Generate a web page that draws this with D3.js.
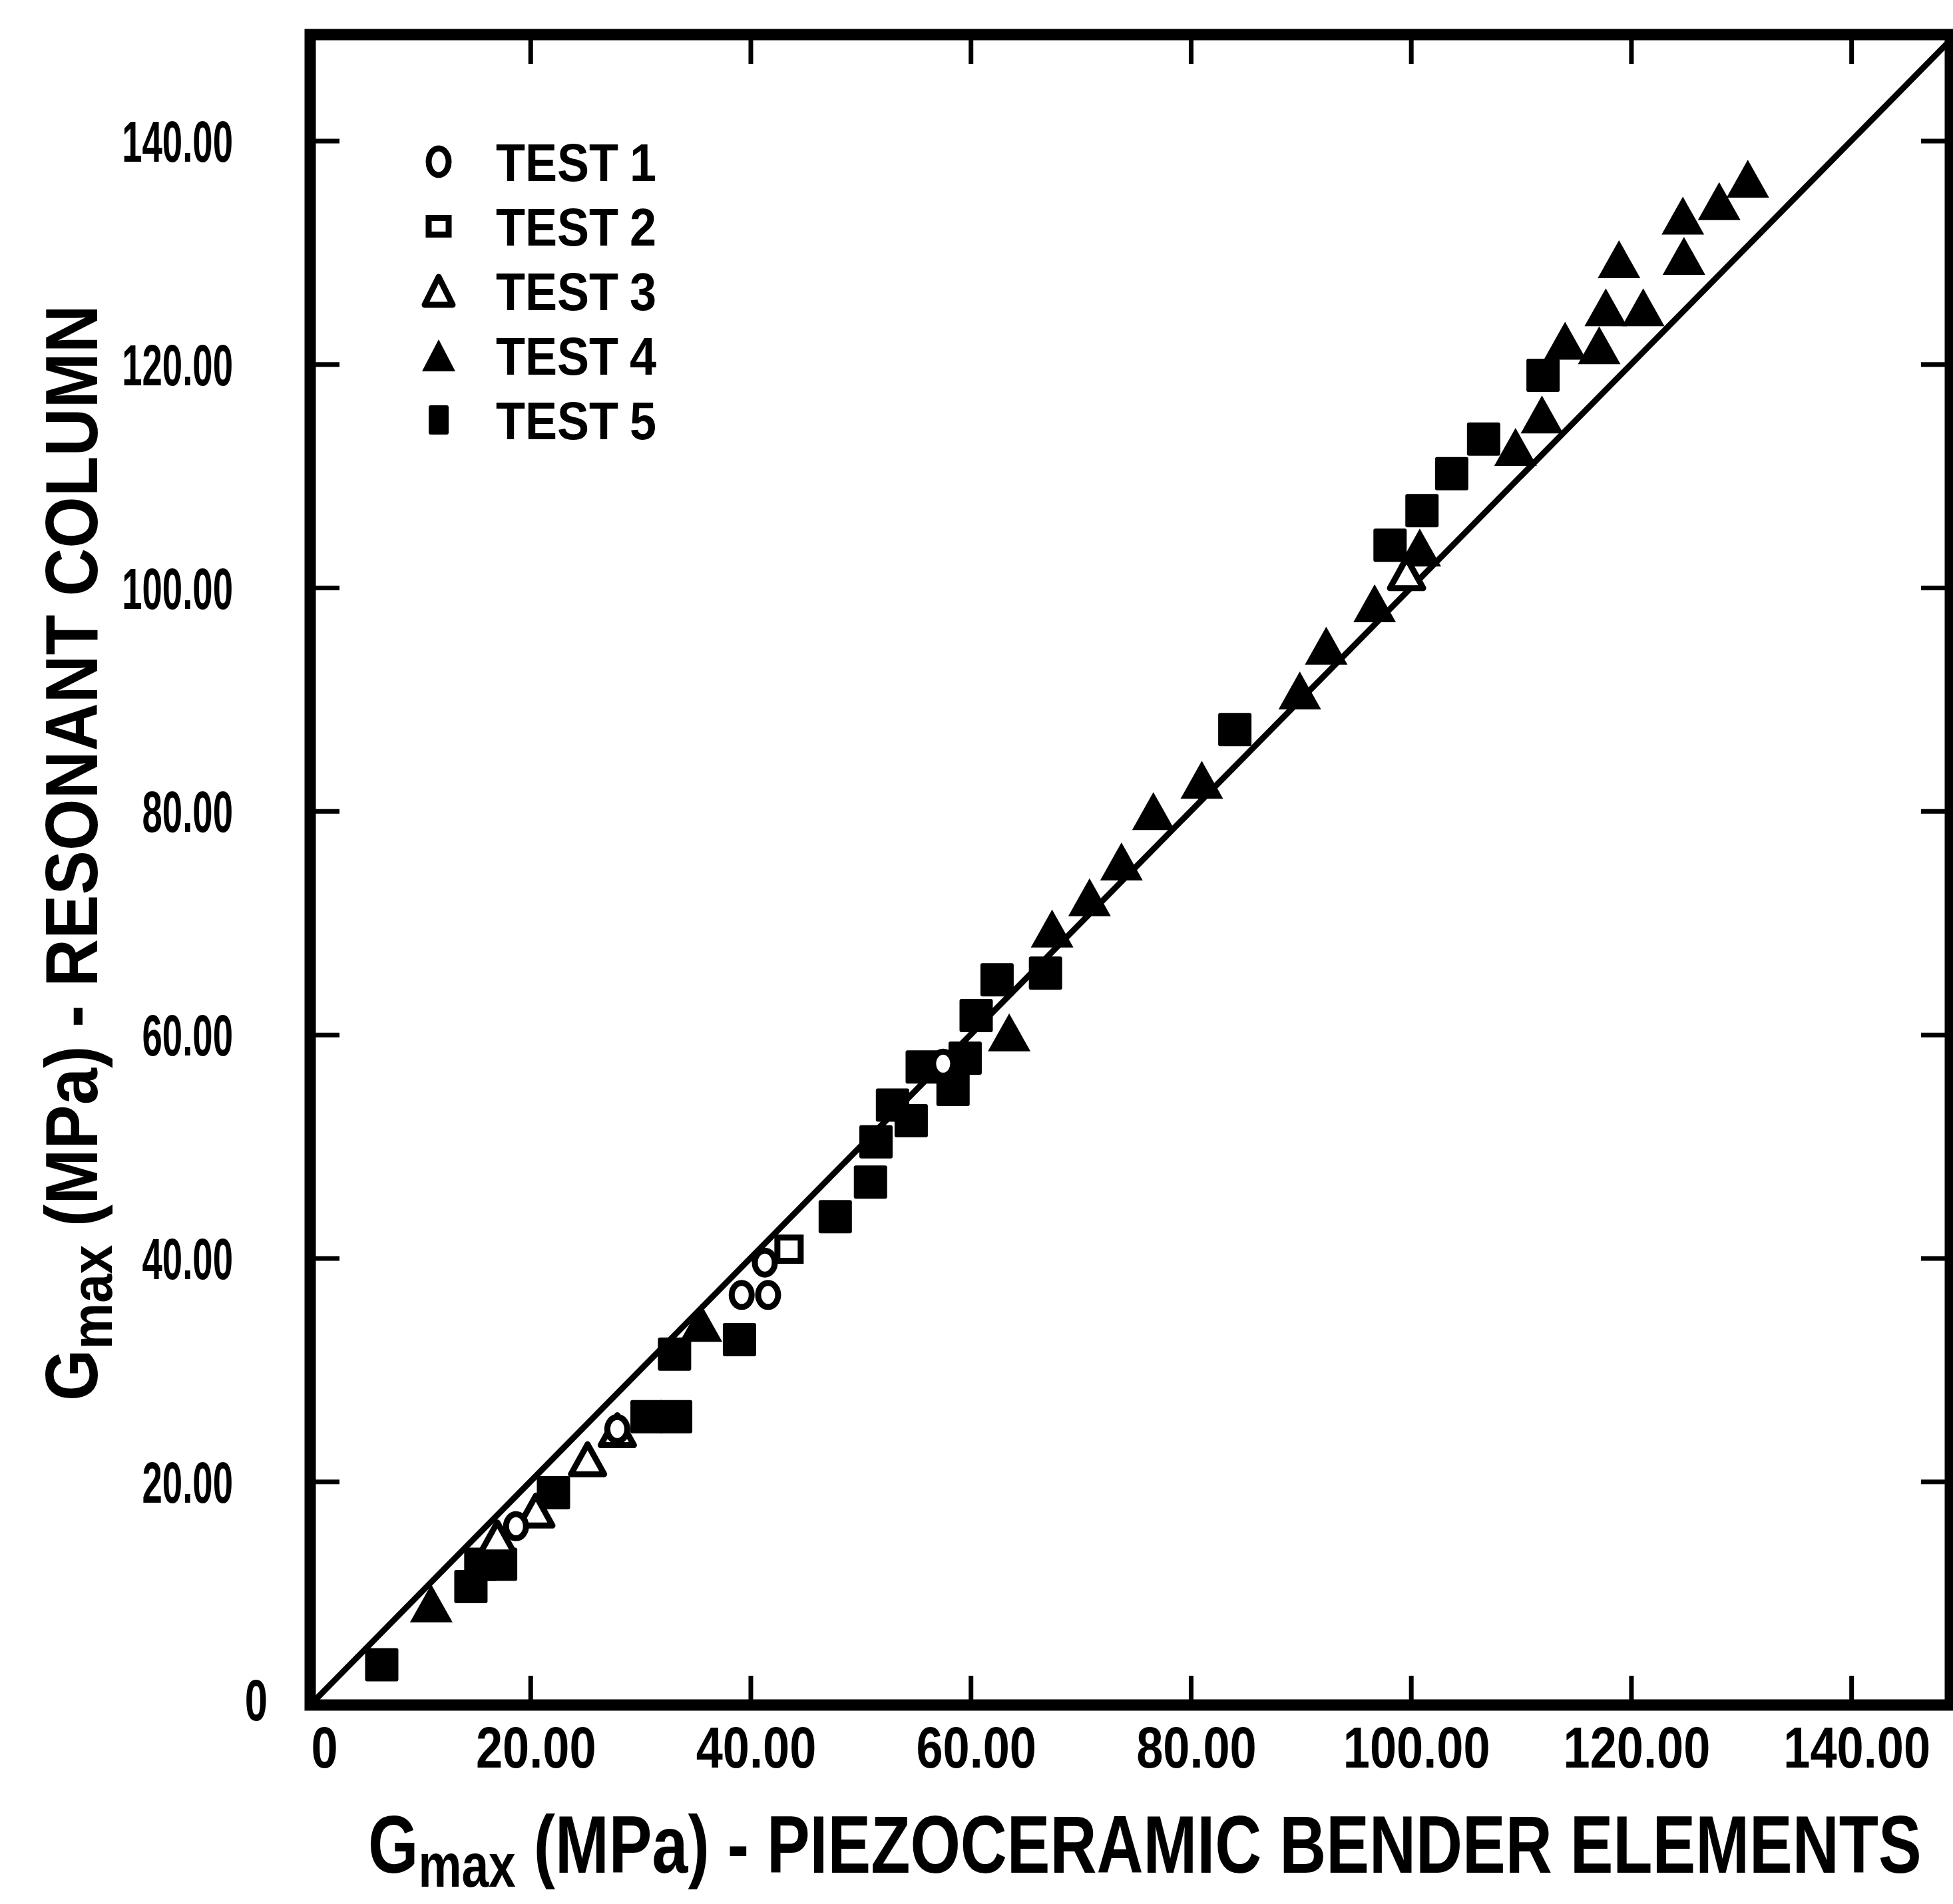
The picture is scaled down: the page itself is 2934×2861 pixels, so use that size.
<!DOCTYPE html>
<html>
<head>
<meta charset="utf-8">
<script src="https://cdn.jsdelivr.net/npm/d3@7"></script>
<style>
  html, body { margin: 0; padding: 0; background: #fff; }
  text { font-family: "Liberation Sans Narrow", "Liberation Sans", sans-serif; font-weight: bold; fill: #000; }
</style>
</head>
<body>
<div id="chart"></div>
<script>
// Gmax from resonant column vs Gmax from bender elements, values in MPa
var xTicks = [0, 20, 40, 60, 80, 100, 120, 140];
var yTicks = [0, 20, 40, 60, 80, 100, 120, 140];
var testNames = ["TEST 1", "TEST 2", "TEST 3", "TEST 4", "TEST 5"];
var lineOfEquality = [0, 149];

// [bender elements, resonant column]
var test1 = [[18.7, 16.0], [27.9, 24.7], [39.2, 36.7], [41.6, 36.7], [41.3, 39.6], [57.5, 57.4]];
var test2 = [[43.5, 40.8]];
var test3 = [[17.0, 15.0], [20.5, 17.4], [25.2, 22.0], [27.9, 24.6], [99.6, 101.3]];
var test4 = [[11.0, 9.1], [35.5, 34.2], [63.5, 60.2], [67.4, 69.5], [70.8, 72.3], [73.7, 75.5],
    [76.6, 80.0], [81.0, 82.8], [89.9, 90.8], [92.3, 94.8], [96.7, 98.6], [100.8, 103.6],
    [109.5, 112.6], [111.9, 115.5], [114.0, 122.1], [117.1, 121.7], [117.7, 125.1], [121.1, 125.1],
    [118.9, 129.4], [124.8, 129.7], [124.7, 133.3], [128.0, 134.6], [130.6, 136.6]];
var test5 = [[6.5, 3.6], [14.6, 10.6], [15.5, 12.6], [17.3, 12.6], [22.1, 19.0], [30.6, 25.8],
    [33.2, 25.8], [33.1, 31.4], [39.0, 32.7], [47.7, 43.7], [50.9, 46.8], [51.4, 50.4],
    [52.9, 53.7], [54.6, 52.3], [55.6, 57.1], [58.4, 55.1], [59.5, 57.9], [60.5, 61.7],
    [62.4, 64.9], [66.8, 65.5], [84.0, 87.3], [98.1, 103.8], [101.0, 106.9], [103.7, 110.2],
    [106.6, 113.3], [112.0, 119.0]];

var width = 2934, height = 2861;
var plotLeft = 466, plotRight = 2930, plotTop = 52, plotBottom = 2562;
var tickLen = 44;

var x = d3.scaleLinear().domain([0, 149]).range([plotLeft, plotRight]);
var y = d3.scaleLinear().domain([0, 149.5]).range([plotBottom, plotTop]);

var svg = d3.select("#chart").append("svg")
    .attr("width", width)
    .attr("height", height);

svg.append("rect").attr("width", width).attr("height", height).attr("fill", "#fff");

function tri(w, h) {
    return `M0,${-h / 2}L${w / 2},${h / 2}L${-w / 2},${h / 2}Z`;
}

// one marker; kind is the test index 0..4
function drawMarker(g, kind, big) {
    if (kind == 0) {
        g.append("ellipse").attr("rx", 15).attr("ry", big ? 18 : 20)
            .attr("fill", "#fff").attr("stroke", "#000").attr("stroke-width", 9);
    } else if (kind == 1) {
        var w = big ? 35 : 30, h = big ? 35 : 25;
        g.append("rect").attr("x", -w / 2).attr("y", -h / 2).attr("width", w).attr("height", h)
            .attr("fill", "#fff").attr("stroke", "#000").attr("stroke-width", 9);
    } else if (kind == 2) {
        g.append("path").attr("d", big ? tri(50, 45) : tri(42, 42))
            .attr("fill", "#fff").attr("stroke", "#000").attr("stroke-width", 9)
            .attr("stroke-linejoin", "round");
    } else if (kind == 3) {
        g.append("path").attr("d", big ? tri(64, 57) : tri(50, 48)).attr("fill", "#000");
    } else {
        var w5 = big ? 50 : 30, h5 = big ? 50 : 44;
        g.append("rect").attr("x", -w5 / 2).attr("y", -h5 / 2).attr("width", w5).attr("height", h5)
            .attr("rx", 3).attr("fill", "#000");
    }
}

function styleTicks(g) {
    g.select(".domain").remove();
    g.selectAll(".tick line").attr("stroke", "#000").attr("stroke-width", 7)
        .style("display", d => d === 0 ? "none" : null);
    g.attr("font-family", null).attr("font-size", null);
    g.selectAll(".tick text").style("font-size", "88px");
}

var fmt = d => d === 0 ? "0" : d.toFixed(2);

// bottom axis with labels
svg.append("g")
    .attr("transform", `translate(0,${plotBottom})`)
    .call(d3.axisBottom(x).tickValues(xTicks).tickSize(-tickLen).tickFormat(fmt))
    .call(styleTicks)
    .selectAll(".tick text")
    .attr("y", null).attr("dy", null)
    .attr("transform", d => `translate(${d === 0 ? 21 : 8},94) scale(0.82,1)`);

// left axis with labels
svg.append("g")
    .attr("transform", `translate(${plotLeft},0)`)
    .call(d3.axisLeft(y).tickValues(yTicks).tickSize(-tickLen).tickFormat(fmt))
    .call(styleTicks)
    .selectAll(".tick text")
    .attr("x", null).attr("dy", null)
    .attr("transform", d => d === 0 ? `translate(${402 - plotLeft},22) scale(0.7,1)`
        : `translate(${350 - plotLeft},31) scale(0.62,1)`);

// top and right: ticks only
svg.append("g")
    .attr("transform", `translate(0,${plotTop})`)
    .call(d3.axisTop(x).tickValues(xTicks.slice(1)).tickSize(-tickLen).tickFormat(""))
    .call(styleTicks);
svg.append("g")
    .attr("transform", `translate(${plotRight},0)`)
    .call(d3.axisRight(y).tickValues(yTicks.slice(1)).tickSize(-tickLen).tickFormat(""))
    .call(styleTicks);

// frame
svg.append("rect")
    .attr("x", plotLeft).attr("y", plotTop)
    .attr("width", plotRight - plotLeft).attr("height", plotBottom - plotTop)
    .attr("fill", "none").attr("stroke", "#000").attr("stroke-width", 17);

// 1:1 line
svg.append("line")
    .attr("x1", x(lineOfEquality[0])).attr("y1", y(lineOfEquality[0]))
    .attr("x2", x(lineOfEquality[1])).attr("y2", y(lineOfEquality[1]))
    .attr("stroke", "#000").attr("stroke-width", 9);

// markers, filled ones first so open ones sit on top
var series = [test1, test2, test3, test4, test5];
[4, 3, 2, 1, 0].forEach(function (k) {
    svg.append("g").attr("class", "test" + (k + 1))
        .selectAll("g")
        .data(series[k])
        .enter().append("g")
        .attr("transform", d => `translate(${x(d[0])},${y(d[1])})`)
        .each(function () { drawMarker(d3.select(this), k, true); });
});

// legend
var legend = svg.append("g").attr("class", "legend");
testNames.forEach(function (name, i) {
    var cy = 243 + i * 97;
    drawMarker(legend.append("g").attr("transform", `translate(659,${cy})`), i, false);
    var parts = name.split(" ");
    legend.append("text")
        .attr("transform", `translate(745,${cy + 29}) scale(0.9,1)`)
        .style("font-size", "80px")
        .text(parts[0]);
    legend.append("text")
        .attr("transform", `translate(966,${cy + 29}) scale(0.9,1)`)
        .attr("text-anchor", "middle")
        .style("font-size", "80px")
        .text(parts[1]);
});

// axis titles, squeezed to the width they take in the figure
function title(px, py, angle, length, rest, size, sub, shift) {
    var t = svg.append("text").style("font-size", size + "px");
    t.append("tspan").text("G");
    t.append("tspan").style("font-size", sub + "px").attr("dy", shift).text("max");
    t.append("tspan").attr("dy", -shift).text(" " + rest);
    var s = length / t.node().getComputedTextLength();
    t.attr("transform", `translate(${px},${py}) rotate(${angle}) scale(${s},1)`);
}
title(553, 2814, 0, 2334, "(MPa) - PIEZOCERAMIC BENDER ELEMENTS", 122, 92, 21);
title(146, 2105, -90, 1647, "(MPa) - RESONANT COLUMN", 112, 88, 22);
</script>
</body>
</html>
